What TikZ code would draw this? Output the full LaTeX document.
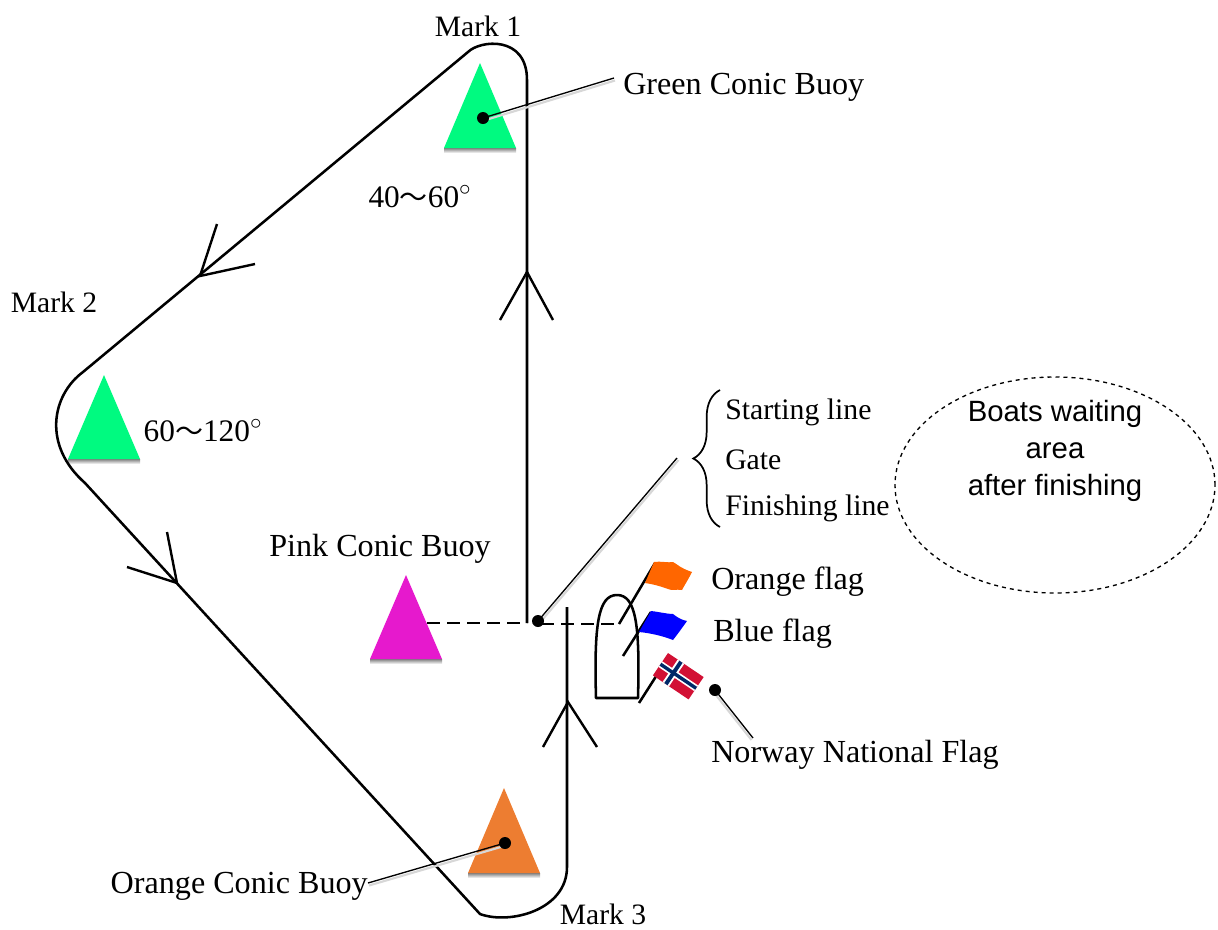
\documentclass[tikz,border=0pt]{standalone}
\usepackage{fontspec}
\setmainfont{Liberation Serif}
\newfontfamily\sansf{Liberation Sans}
\newfontfamily\cjk{Noto Sans CJK SC}
\usetikzlibrary{decorations.pathreplacing,shapes.geometric}
\definecolor{buoygreen}{RGB}{0,250,128}
\definecolor{buoypink}{RGB}{230,25,205}
\definecolor{buoyorange}{RGB}{237,125,49}
\definecolor{flagorange}{RGB}{255,102,0}
\definecolor{flagblue}{RGB}{0,0,255}
\definecolor{norred}{RGB}{210,16,52}
\definecolor{norblue}{RGB}{0,40,104}
\definecolor{shade}{RGB}{205,205,205}
\definecolor{lshade}{RGB}{215,215,215}
\newcommand{\tl}{{\cjk\fontsize{21}{26}\selectfont ～}}
\newcommand{\buoy}[4]{%
  \fill[shade] (#1-36,#3) rectangle (#1+36,#3+5);
  \fill[#4] (#1,#2) -- (#1+36,#3) -- (#1-36,#3) -- cycle;}
\begin{document}
\begin{tikzpicture}[x=0.75pt,y=-0.75pt,
  lbl/.style={font=\fontsize{24.1}{28}\selectfont, inner sep=0pt},
  marklbl/.style={font=\fontsize{22.2}{26}\selectfont, inner sep=0pt},
  anglbl/.style={font=\fontsize{23.5}{28}\selectfont, inner sep=0pt},
  bracelbl/.style={font=\fontsize{22.3}{26}\selectfont, inner sep=0pt, anchor=west},
  course/.style={line width=1.9pt, line join=round},
  chev/.style={line width=1.8pt},
  leader/.style={line width=1pt},
  leadshadow/.style={line width=1.6pt, lshade},
  dotmark/.style={circle, fill=black, inner sep=0pt, minimum size=9pt}]
\useasboundingbox (0,0) rectangle (1218,929);

% ---- buoys ----
\buoy{480}{63}{148}{buoygreen}
\buoy{104}{375}{459}{buoygreen}
\buoy{406}{575}{659}{buoypink}
\buoy{504}{788}{873}{buoyorange}

% ---- course ----
\draw[course] (527,623) -- (527,80)
  .. controls (527,35) and (480,40) .. (468,52)
  -- (83,372)
  .. controls (52,395) and (42,445) .. (85,483)
  -- (480,914)
  .. controls (510,925) and (567,910) .. (567,867)
  -- (567,607);

% chevrons
\coordinate (ca) at (200,276);
\draw[chev] (217,224) -- (ca) -- (255,264);
\coordinate (cb) at (177,583);
\draw[chev] (167,532) -- (cb) -- (127,567);
\coordinate (cc) at (527,272);
\draw[chev] (500,320) -- (cc) -- (553,320);
\coordinate (cd) at (568,702);
\draw[chev] (543,747) -- (cd) -- (597,747);

% dashed line
\draw[line width=2.2pt, dash pattern=on 9.5pt off 5.5pt] (427,623) -- (527,623);
\draw[line width=2.2pt, dash pattern=on 9.5pt off 5.5pt] (541,624) -- (619,624);

% ---- boat ----
\draw[line width=1.9pt, line join=round] (596,698) .. controls (594,625) and (598,595) .. (617,595)
  .. controls (636,595) and (640,625) .. (638,698) -- cycle;

% ---- flags ----
\draw[line width=1.9pt] (619,624) -- (655,563);
\fill[flagorange] (654,562) .. controls (662,561) and (668,563) .. (673,562)
  .. controls (677,564) and (680,568) .. (692,572)
  .. controls (688,580) and (684,586) .. (682,590)
  .. controls (676,589) and (672,591) .. (668,589)
  .. controls (660,586) and (652,584) .. (645,583) -- cycle;
\draw[line width=1.9pt] (623,656) -- (651,612);
\fill[flagblue] (651,611) .. controls (660,612) and (667,614) .. (673,614)
  .. controls (678,618) and (682,620) .. (687,621)
  .. controls (682,628) and (677,635) .. (673,640)
  .. controls (663,636) and (650,633) .. (639,632) -- cycle;
\draw[line width=1.9pt] (639,703) -- (662,667);
\begin{scope}[shift={(668,653)}, rotate=-34]
  \fill[norred] (0,0) rectangle (43,27);
  \fill[white] (11.7,0) rectangle (19.5,27);
  \fill[white] (0,10.1) rectangle (43,16.9);
  \fill[norblue] (13.7,0) rectangle (17.6,27);
  \fill[norblue] (0,11.8) rectangle (43,15.2);
\end{scope}

% ---- labels ----
\node[marklbl] (m1) at (478,26) {Mark 1};
\node[marklbl] (m2) at (54,302) {Mark 2};
\node[marklbl] (m3) at (603,914) {Mark 3};
\node[anglbl] (a1) at (420,197) {40\tl60$^{\circ}$};
\node[anglbl] (a2) at (203,431) {60\tl120$^{\circ}$};
\node[lbl, anchor=west] (gcb) at (623,87) {Green Conic Buoy};
\node[lbl] (pcb) at (380,549) {Pink Conic Buoy};
\node[lbl, anchor=east] (ocb) at (368,886) {Orange Conic Buoy};
\node[bracelbl] (sl) at (725,412) {Starting line};
\node[bracelbl] (gt) at (725,460) {Gate};
\node[bracelbl] (fl) at (725,508) {Finishing line};
\node[lbl, anchor=west] (of) at (711,582) {Orange flag};
\node[lbl, anchor=west] (bf) at (713,634) {Blue flag};
\node[lbl, anchor=west] (nf) at (711,755) {Norway National Flag};

% brace
\draw[line width=1.3pt, decorate, decoration={brace, amplitude=20pt, aspect=0.5}]
  (720,527) -- (720,390);
\coordinate (bt) at (677,458);

% waiting area
\node[draw, dashed, line width=1pt, ellipse, minimum width=240pt, minimum height=162pt,
      inner sep=0pt] (wa) at (1055,485) {};
\node[font=\sansf\fontsize{22}{26}\selectfont, align=center, inner sep=0pt] (wat) at (1055,451)
  {Boats waiting\\[2pt]area\\[2pt]after finishing};

% ---- leaders ----
\coordinate (gd) at (483,118);
\coordinate (gl) at (614,78);
\draw[leadshadow] ([shift={(1,2.5)}]gd) -- ([shift={(1,2.5)}]gl);
\draw[leader] (gd) -- (gl);
\node[dotmark] at (gd) {};

\coordinate (jd) at (538,621);
\draw[leadshadow] ([shift={(1.5,2)}]jd) -- ([shift={(1.5,2)}]bt);
\draw[leader] (jd) -- (bt);
\node[dotmark] at (jd) {};

\coordinate (nd) at (715,690);
\coordinate (nl) at (753,738);
\draw[leadshadow] ([shift={(-1.5,2)}]nd) -- ([shift={(-1.5,2)}]nl);
\draw[leader] (nd) -- (nl);
\node[dotmark] at (nd) {};

\coordinate (od) at (505,843);
\coordinate (ol) at (368,883);
\draw[leadshadow] ([shift={(1,2.5)}]od) -- ([shift={(1,2.5)}]ol);
\draw[leader] (od) -- (ol);
\node[dotmark] at (od) {};
\end{tikzpicture}
\end{document}
